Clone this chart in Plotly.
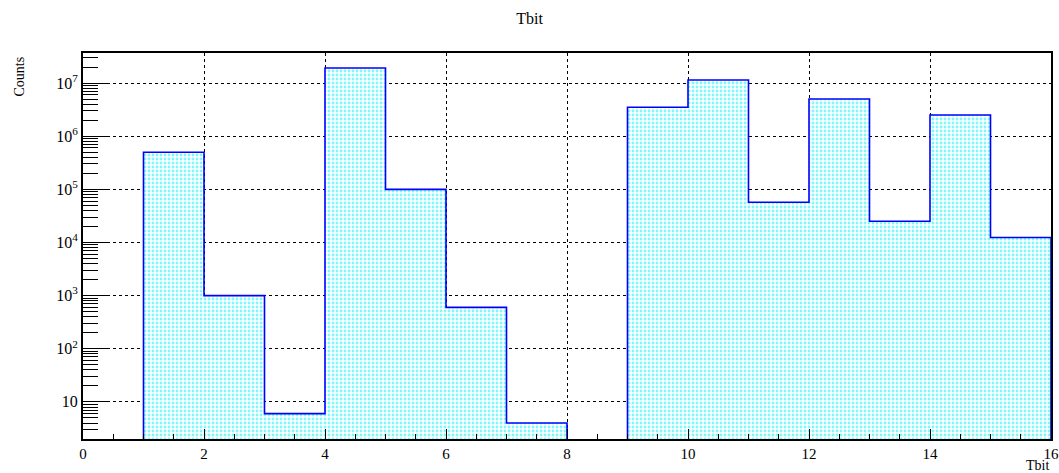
import plotly.graph_objects as go
import math

bin_edges = [float(i) for i in range(17)]
counts = [0, 5.0e5, 1000, 6, 1.92e7, 1.0e5, 600, 4, 0, 3.5e6, 1.14e7, 5.7e4, 5.0e6, 2.5e4, 2.5e6, 1.24e4]
y_major = [10, 100, 1e3, 1e4, 1e5, 1e6, 1e7]
y_major_text = ["10", "10<sup>2</sup>", "10<sup>3</sup>", "10<sup>4</sup>", "10<sup>5</sup>", "10<sup>6</sup>", "10<sup>7</sup>"]

y_min, y_max = 2.0, 3.68e7
floor = 0.5  # value used for empty bins / baseline (below visible range)

xs, ys = [bin_edges[0]], [floor]
for i, c in enumerate(counts):
    v = c if c > 0 else floor
    xs += [bin_edges[i], bin_edges[i + 1]]
    ys += [v, v]
xs.append(bin_edges[-1]); ys.append(floor)

minor_y = [m * 10 ** k for k in range(0, 8) for m in range(2, 10) if y_min <= m * 10 ** k <= y_max]

fig = go.Figure()
fig.add_trace(go.Scatter(
    x=xs, y=ys, mode="lines", fill="toself",
    fillcolor="rgba(0,0,0,0)",
    fillpattern=dict(shape=".", fgcolor="#00f0f8", bgcolor="#ffffff", size=4, solidity=0.4),
    line=dict(color="#0000ff", width=1.6),
    hoverinfo="skip", showlegend=False,
))

font = "Liberation Serif, Times New Roman, serif"
fig.update_layout(
    margin=dict(l=83, r=8, t=53, b=34, autoexpand=False),
    plot_bgcolor="white", paper_bgcolor="white",
    font=dict(family=font, size=15, color="black"),
    title=dict(text="Tbit", x=0.5, xanchor="center", y=1 - 18 / 473, yanchor="middle",
               font=dict(family=font, size=16)),
    showlegend=False,
)
fig.update_xaxes(
    range=[0, 16], dtick=2, tick0=0, automargin=False,
    showline=True, linecolor="black", linewidth=2, mirror=True,
    ticks="inside", ticklen=10, tickcolor="black", tickwidth=1,
    showgrid=True, gridcolor="black", griddash="dot", gridwidth=1,
    zeroline=False,
    minor=dict(dtick=0.5, ticks="inside", ticklen=5, tickcolor="black", showgrid=False),
    tickfont=dict(family=font, size=15),
)
fig.update_yaxes(
    type="log", range=[math.log10(y_min), math.log10(y_max)], automargin=False,
    tickmode="array", tickvals=y_major, ticktext=y_major_text,
    showline=True, linecolor="black", linewidth=2, mirror=True,
    ticks="inside", ticklen=26, tickcolor="black", tickwidth=1,
    showgrid=True, gridcolor="black", griddash="dot", gridwidth=1,
    zeroline=False,
    minor=dict(tickmode="array", tickvals=minor_y, ticks="inside", ticklen=15, tickcolor="black", showgrid=False),
    tickfont=dict(family=font, size=16),
)
fig.add_annotation(text="Counts", xref="paper", yref="paper", x=-74 / 968, y=1 - 2 / 386,
                   textangle=-90, showarrow=False, xanchor="left", yanchor="top",
                   font=dict(family=font, size=14))
fig.add_annotation(text="Tbit", xref="paper", yref="paper", x=1.0, y=-26 / 386,
                   showarrow=False, xanchor="right", yanchor="middle",
                   font=dict(family=font, size=14))

fig.write_html("out.html")
